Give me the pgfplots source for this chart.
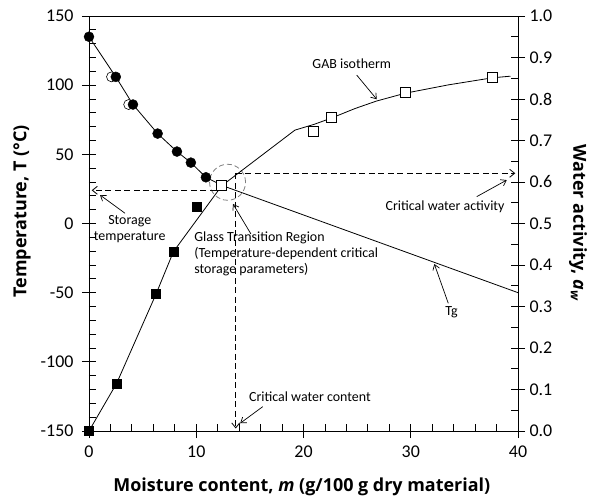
\documentclass[border=0pt]{standalone}
\usepackage{fontspec}
\setmainfont{Carlito}
\newfontfamily\labfont{Open Sans}
\usepackage{pgfplots}
\pgfplotsset{compat=1.18}
\usetikzlibrary{arrows.meta}

% Tg data (left axis, deg C)
\pgfplotstableread{
m T
0    135
2.5  106
4.1  86
6.4  65
8.2  52
9.5  44
10.9 33.4
}\tgdata

% sorption data below the GAB range (right axis, a_w)
\pgfplotstableread{
m aw
0    0
2.58 0.115
6.25 0.33
7.87 0.432
10.04 0.54
}\lowdata

% GAB isotherm points (right axis)
\pgfplotstableread{
m aw
20.9 0.723
22.6 0.756
29.5 0.815
37.6 0.851
}\gabdata

\pgfplotsset{
  base/.style={
    scale only axis, width=429bp, height=415bp,
    xmin=0, xmax=40, clip=false,
    tick label style={font=\fontsize{18}{20}\selectfont},
    /pgf/number format/assume math mode=true,
    tick align=inside, major tick length=7bp, minor tick length=7bp,
    tick style={black, line width=0.8bp},
    axis line style={black, line width=0.9bp},
    extra tick style={tick align=outside},
  },
}
\tikzset{
  note/.style={font=\fontsize{14}{16}\selectfont},
  arr/.style={line width=0.7bp, -{Straight Barb[length=5bp,width=7bp]}},
  dsh/.style={line width=0.8bp, dash pattern=on 6bp off 3.5bp, -{Straight Barb[length=5bp,width=8bp,line width=0.8bp,sep]}},
}

\begin{document}
\begin{tikzpicture}
\path[use as bounding box] (-89bp,-67bp) rectangle (501bp,431bp);

\begin{axis}[base,
  ymin=-150, ymax=150,
  xtick={0,10,20,30,40}, minor x tick num=4,
  ytick={-150,-100,-50,0,50,100,150}, minor y tick num=4,
  extra x ticks={0,10,20,30,40}, extra x tick labels={},
  extra y ticks={-150,-100,-50,0,50,100,150}, extra y tick labels={},
  xtick pos=bottom, ytick pos=left,
  xticklabel style={yshift=-11bp},
  yticklabel style={xshift=-12bp},
]
% Tg curve
\addplot[no marks, line width=0.8bp] coordinates {
  (0,135) (2.5,106) (4.1,86) (6.4,65) (8.2,52) (9.5,44) (10.9,33.4) (12.4,27.5) (40,-50)};
\addplot[only marks, mark=*, mark size=5bp, mark options={fill=white, line width=0.6bp}]
  coordinates {(2.1,106) (3.7,86)};
\addplot[only marks, mark=*, mark size=5bp, black] table[x=m, y=T] {\tgdata};

% glass transition region
\draw[gray, line width=0.8bp, dash pattern=on 5bp off 3bp] (axis cs:12.92,29.8) circle[radius=18bp];

% dashed guide lines
\draw[dsh] (axis cs:11.8,24) -- (axis cs:0.15,24);
\draw[dsh] (axis cs:13.7,36.3) -- (axis cs:39.85,36.3);
\draw[dsh] (axis cs:13.68,36.3) -- (axis cs:13.68,-149);

% annotations
\node[note, align=center] at (axis cs:3.8,-3.8) {Storage\\temperature};
\draw[arr] (axis cs:3.36,7.4) -- (axis cs:1.03,20.6);

\node[note, align=left, anchor=west] at (axis cs:9.5,-22) {Glass Transition Region\\(Temperature-dependent critical\\storage parameters)};
\draw[arr] (axis cs:15.1,-7.6) -- (axis cs:13.43,14.1);

\node[note] at (axis cs:24.5,115.8) {GAB isotherm};
\draw[arr] (axis cs:24.96,107.3) -- (axis cs:26.83,89.8);

\node[note] at (axis cs:33.2,12.1) {Critical water activity};
\draw[arr] (axis cs:36.15,19.4) -- (axis cs:38.95,31.4);

\node[note] at (axis cs:33.8,-63.8) {Tg};
\draw[arr] (axis cs:33.5,-57.7) -- (axis cs:32.2,-29.3);

\node[note, anchor=west] at (axis cs:14.6,-125.2) {Critical water content};
\draw[arr] (axis cs:16.2,-132.4) -- (axis cs:14.1,-144.4);

% axis titles
\node[font=\labfont\bfseries\fontsize{18}{20}\selectfont] at (rel axis cs:0.496,-0.134)
  {Moisture content, \textit{m} (g/100 g dry material)};
\node[rotate=90, font=\labfont\bfseries\fontsize{18}{20}\selectfont] at (rel axis cs:-0.156,0.529)
  {Temperature, T (°C)};
\node[rotate=-90, font=\labfont\bfseries\fontsize{18}{20}\selectfont] at (rel axis cs:1.140,0.501)
  {Water activity, \textit{a}\textsubscript{\textit{w}}};
\end{axis}

\begin{axis}[base,
  ymin=0, ymax=1,
  axis x line=none, axis y line*=right,
  ytick={0,0.1,0.2,0.3,0.4,0.5,0.6,0.7,0.8,0.9,1.0}, minor y tick num=1,
  extra y ticks={0,0.1,0.2,0.3,0.4,0.5,0.6,0.7,0.8,0.9,1.0}, extra y tick labels={},
  yticklabel style={xshift=8bp, /pgf/number format/.cd, fixed, fixed zerofill, precision=1},
]
\addplot[no marks, line width=0.8bp] coordinates {
  (0,0) (2.58,0.115) (6.25,0.33) (7.87,0.432) (12.38,0.591) (19.2,0.725) (21,0.739)
  (22.6,0.754) (24.8,0.777) (26.8,0.795) (29.5,0.814) (33.5,0.834) (37.6,0.851) (39.3,0.855)};
\addplot[only marks, mark=square*, mark size=4.5bp, black] table[x=m, y=aw] {\lowdata};
\addplot[only marks, mark=square*, mark size=5bp, mark options={fill=white, line width=0.8bp}]
  table[x=m, y=aw] {\gabdata};
\addplot[only marks, mark=square*, mark size=5bp, mark options={fill=white, line width=0.8bp}]
  coordinates {(12.38,0.591)};
\end{axis}
\end{tikzpicture}
\end{document}
